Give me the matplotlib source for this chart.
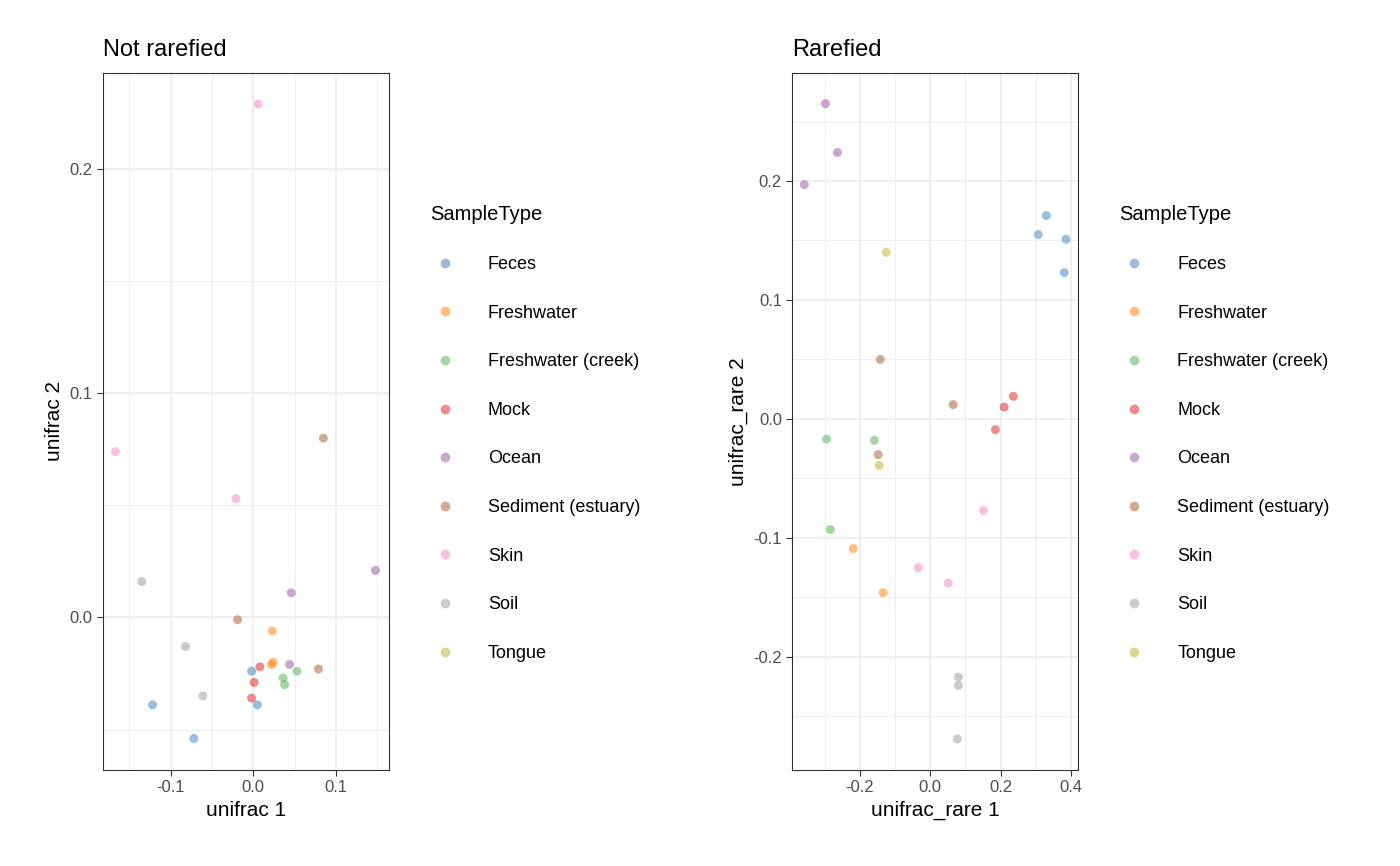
import matplotlib.pyplot as plt
from matplotlib.lines import Line2D
from matplotlib.ticker import MultipleLocator

plt.rcParams['font.family'] = ['Liberation Sans', 'DejaVu Sans']

types = ["Feces", "Freshwater", "Freshwater (creek)", "Mock", "Ocean",
         "Sediment (estuary)", "Skin", "Soil", "Tongue"]
colors = ["#377EB8", "#FF7F00", "#4DAF4A", "#E41A1C", "#984EA3",
          "#A65628", "#F781BF", "#999999", "#BDB11E"]

# not rarefied: (x, y) per sample type
nr = {
    "Feces": [(-0.002, -0.024), (0.005, -0.039), (-0.122, -0.039), (-0.072, -0.054)],
    "Freshwater": [(0.023, -0.006), (0.024, -0.020), (0.022, -0.021)],
    "Freshwater (creek)": [(0.036, -0.027), (0.038, -0.030), (0.053, -0.024)],
    "Mock": [(0.008, -0.022), (0.001, -0.029), (-0.002, -0.036)],
    "Ocean": [(0.148, 0.021), (0.046, 0.011), (0.044, -0.021)],
    "Sediment (estuary)": [(0.085, 0.080), (-0.019, -0.001), (0.079, -0.023)],
    "Skin": [(0.006, 0.229), (-0.167, 0.074), (-0.021, 0.053)],
    "Soil": [(-0.135, 0.016), (-0.082, -0.013), (-0.061, -0.035)],
    "Tongue": [],
}
# rarefied
ra = {
    "Feces": [(0.330, 0.171), (0.307, 0.155), (0.386, 0.151), (0.381, 0.123)],
    "Freshwater": [(-0.219, -0.109), (-0.134, -0.146)],
    "Freshwater (creek)": [(-0.295, -0.017), (-0.159, -0.018), (-0.284, -0.093)],
    "Mock": [(0.236, 0.019), (0.210, 0.010), (0.185, -0.009)],
    "Ocean": [(-0.298, 0.265), (-0.264, 0.224), (-0.358, 0.197)],
    "Sediment (estuary)": [(-0.142, 0.050), (0.065, 0.012), (-0.148, -0.030)],
    "Skin": [(0.151, -0.077), (-0.034, -0.125), (0.051, -0.138)],
    "Soil": [(0.080, -0.217), (0.080, -0.224), (0.077, -0.269)],
    "Tongue": [(-0.125, 0.140), (-0.145, -0.039)],
}

fig = plt.figure(figsize=(14, 8.66), dpi=100)
ax1 = fig.add_axes([0.0736, 0.111, 0.204, 0.805])
ax2 = fig.add_axes([0.566, 0.111, 0.204, 0.805])


def draw(ax, data, title, xlab, ylab, xlim, ylim, xmaj, ymaj):
    for t, c in zip(types, colors):
        pts = data[t]
        if not pts:
            continue
        ax.scatter([p[0] for p in pts], [p[1] for p in pts], s=42, color=c,
                   alpha=0.5, edgecolors="none", zorder=3)
    ax.set_xlim(xlim)
    ax.set_ylim(ylim)
    ax.xaxis.set_major_locator(MultipleLocator(xmaj))
    ax.yaxis.set_major_locator(MultipleLocator(ymaj))
    ax.xaxis.set_minor_locator(MultipleLocator(xmaj / 2))
    ax.yaxis.set_minor_locator(MultipleLocator(ymaj / 2))
    ax.grid(which="major", color="#EBEBEB", lw=1.1)
    ax.grid(which="minor", color="#EBEBEB", lw=0.6)
    ax.set_axisbelow(True)
    ax.tick_params(which="minor", length=0)
    ax.tick_params(which="major", length=4, color="#333333", labelsize=12,
                   labelcolor="#4D4D4D")
    for s in ax.spines.values():
        s.set_color("#333333")
        s.set_linewidth(0.8)
    ax.set_title(title, loc="left", fontsize=17, pad=12)
    ax.set_xlabel(xlab, fontsize=15)
    ax.set_ylabel(ylab, fontsize=15)
    fmt = lambda v, p: "0.0" if abs(v) < 1e-9 else f"{v:.1f}"
    ax.xaxis.set_major_formatter(fmt)
    ax.yaxis.set_major_formatter(fmt)
    handles = [Line2D([], [], marker="o", ls="", color=c, alpha=0.5,
                      markeredgewidth=0, markersize=7) for c in colors]
    leg = ax.legend(handles, types, title="SampleType", loc="upper left",
                    bbox_to_anchor=(1.12, 0.82), frameon=False, fontsize=13,
                    title_fontsize=14.5, labelspacing=1.75, handletextpad=1.6,
                    handlelength=1.6, borderaxespad=0)
    leg._legend_box.align = "left"


draw(ax1, nr, "Not rarefied", "unifrac 1", "unifrac 2",
     (-0.182, 0.164), (-0.068, 0.243), 0.1, 0.1)
draw(ax2, ra, "Rarefied", "unifrac_rare 1", "unifrac_rare 2",
     (-0.392, 0.420), (-0.295, 0.291), 0.2, 0.1)

fig.savefig("out.png", dpi=100)
